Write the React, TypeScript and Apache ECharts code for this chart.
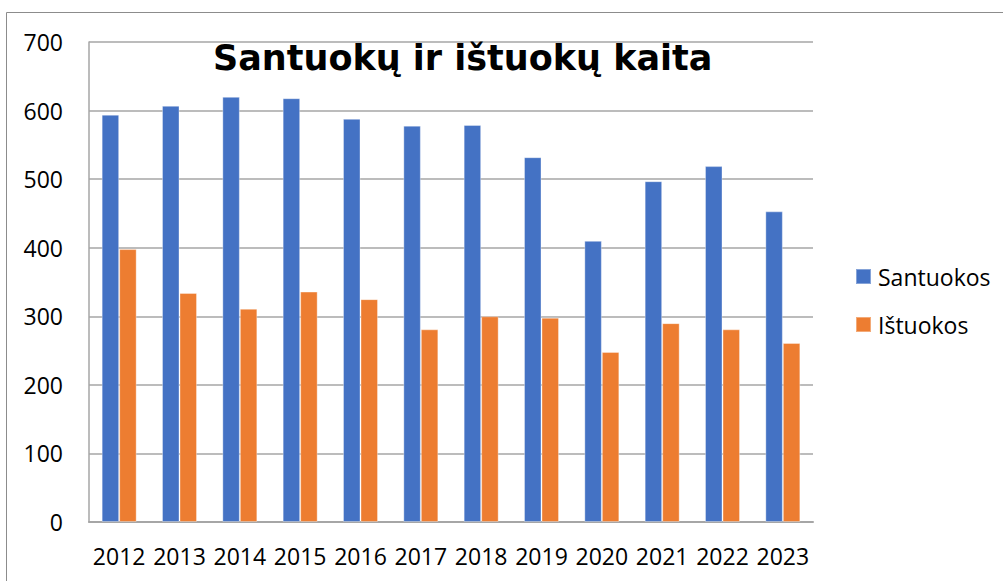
import React, { useEffect, useRef } from "react";
import * as echarts from "echarts";

const years = ["2012", "2013", "2014", "2015", "2016", "2017", "2018", "2019", "2020", "2021", "2022", "2023"];
const santuokos = [594, 607, 620, 618, 588, 578, 579, 532, 410, 497, 519, 453];
const istuokos = [398, 334, 311, 336, 325, 281, 300, 298, 248, 290, 281, 261];
const seriesNames = ["Santuokos", "Ištuokos"];
const titleText = "Santuokų ir ištuokų kaita";

export default function App() {
  const ref = useRef<HTMLDivElement>(null);
  useEffect(() => {
    if (!ref.current) return;
    const chart = echarts.init(ref.current, null, { renderer: "svg" });
    const font = "'Open Sans', sans-serif";
    chart.setOption({
      animation: false,
      backgroundColor: "#ffffff",
      title: {
        text: titleText,
        left: 213,
        top: 40,
        padding: 0,
        textStyle: {
          fontFamily: "'DejaVu Sans', Verdana, sans-serif",
          fontWeight: "bold",
          fontSize: 35,
          color: "#000000",
        },
      },
      graphic: [
        {
          type: "rect",
          shape: { x: 6.5, y: 12.5, width: 1100, height: 700 },
          style: { fill: "none", stroke: "#8c8c8c", lineWidth: 1 },
          silent: true,
        },
      ],
      legend: {
        orient: "vertical",
        left: 855,
        top: 265,
        padding: 0,
        itemWidth: 15,
        itemHeight: 15,
        itemGap: 25,
        icon: "rect",
        textStyle: { fontFamily: font, fontSize: 23, color: "#000000", padding: [0, 0, 0, 2] },
        data: seriesNames,
      },
      grid: { left: 89, top: 42, right: 190, bottom: 59, containLabel: false },
      xAxis: {
        type: "category",
        data: years,
        axisLine: { show: true, lineStyle: { color: "#a6a6a6", width: 2 } },
        axisTick: { show: false },
        axisLabel: { fontFamily: font, fontSize: 23, color: "#000000", margin: 22, interval: 0 },
      },
      yAxis: {
        type: "value",
        min: 0,
        max: 700,
        interval: 100,
        axisLine: { show: true, lineStyle: { color: "#a6a6a6", width: 1.5 } },
        axisTick: { show: false },
        splitLine: { show: true, lineStyle: { color: "#a6a6a6", width: 1.5 } },
        axisLabel: { fontFamily: font, fontSize: 23, color: "#000000", margin: 26 },
      },
      series: [
        {
          name: seriesNames[0],
          type: "bar",
          data: santuokos,
          barGap: "0%",
          barCategoryGap: "42%",
          itemStyle: { color: "#4472C4", borderColor: "rgba(255,255,255,0.35)", borderWidth: 1 },
        },
        {
          name: seriesNames[1],
          type: "bar",
          data: istuokos,
          barGap: "0%",
          barCategoryGap: "42%",
          itemStyle: { color: "#ED7D31", borderColor: "rgba(255,255,255,0.35)", borderWidth: 1 },
        },
      ],
    });
    return () => chart.dispose();
  }, []);
  return (
    <div
      ref={ref}
      style={{ position: "fixed", left: 0, top: 0, width: 1003, height: 581 }}
    />
  );
}
